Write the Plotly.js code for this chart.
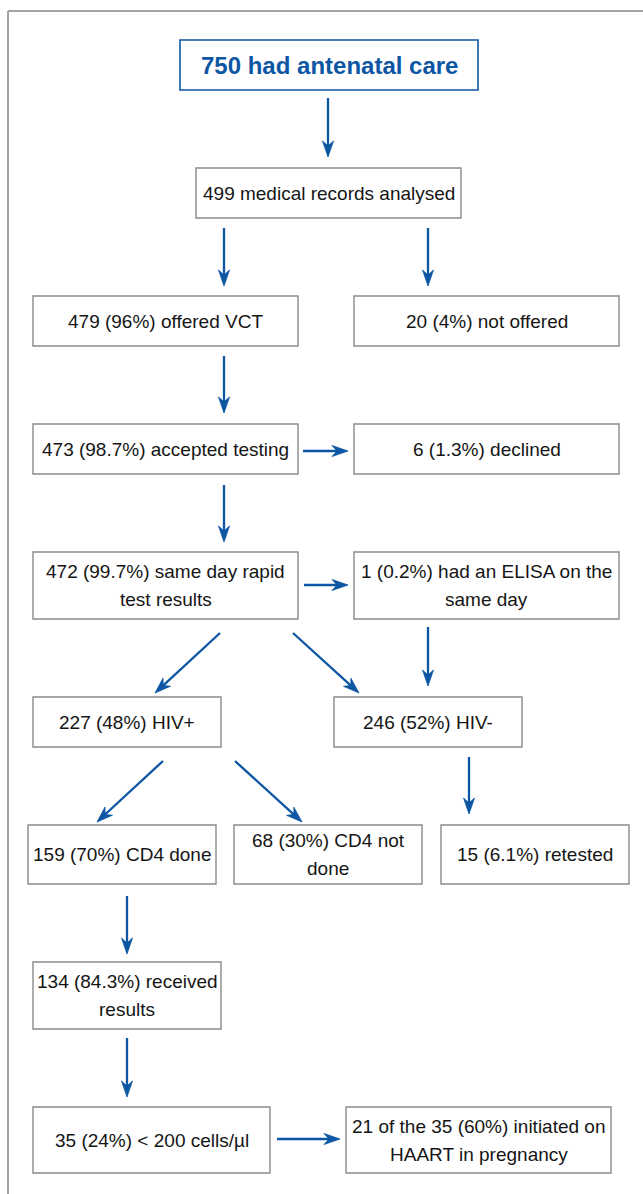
<!DOCTYPE html>
<html><head><meta charset="utf-8">
<script src="https://cdn.plot.ly/plotly-3.0.1.min.js"></script>
<style>html,body{margin:0;padding:0;background:#fff}#chart{width:643px;height:1194px}</style>
</head><body><div id="chart"></div>
<script>
// ---- content (text of each flowchart step) ----
const headLabel = "750 had antenatal care";
const stepLabels = [
  ["499 medical records analysed"],
  ["479 (96%) offered VCT"],
  ["20 (4%) not offered"],
  ["473 (98.7%) accepted testing"],
  ["6 (1.3%) declined"],
  ["472 (99.7%) same day rapid", "test results"],
  ["1 (0.2%) had an ELISA on the", "same day"],
  ["227 (48%) HIV+"],
  ["246 (52%) HIV-"],
  ["159 (70%) CD4 done"],
  ["68 (30%) CD4 not", "done"],
  ["15 (6.1%) retested"],
  ["134 (84.3%) received", "results"],
  ["35 (24%) < 200 cells/µl"],
  ["21 of the 35 (60%) initiated on", "HAART in pregnancy"]
];

// ---- geometry (pixel layout of the diagram) ----
const headBox = [180, 40, 478, 90];
const stepBoxes = [
  [196, 168, 461, 218],
  [33, 296, 298, 346],
  [354, 296, 619, 346],
  [33, 424, 298, 474],
  [354, 424, 619, 474],
  [33, 552, 298, 619],
  [354, 552, 619, 619],
  [33, 697, 221, 747],
  [334, 697, 522, 747],
  [28, 825, 216, 884],
  [234, 825, 422, 884],
  [441, 825, 629, 884],
  [33, 962, 221, 1029],
  [33, 1107, 270, 1173],
  [346, 1107, 611, 1173]
];
const arrows = [
  [328, 98, 328, 157],
  [224, 228, 224, 286],
  [428, 228, 428, 286],
  [224, 356, 224, 413],
  [303, 451, 348, 451],
  [224, 485, 224, 542],
  [304, 585, 348, 585],
  [220, 633, 155, 693],
  [293, 633, 359, 693],
  [428, 627, 428, 686],
  [163, 761, 97, 822],
  [235, 761, 302, 822],
  [469, 757, 469, 814],
  [127, 896, 127, 954],
  [127, 1038, 127, 1097],
  [277, 1139, 340, 1139]
];

const W = 643, H = 1194;
const blue = "#0d56a4";
const boxGrey = "#8a8a8a";
const textCol = "#151515";
const fontFam = "Liberation Sans, Arial, sans-serif";
const lineGap = 28;

const shapes = [];
const annotations = [];

// outer frame (top and left edges visible)
shapes.push({type:"line", xref:"x", yref:"y", x0:8, y0:11, x1:W, y1:11, line:{color:"#a3a3a3", width:2}});
shapes.push({type:"line", xref:"x", yref:"y", x0:8, y0:11, x1:8, y1:H, line:{color:"#a3a3a3", width:2}});

// head box
shapes.push({type:"rect", xref:"x", yref:"y", x0:headBox[0], y0:headBox[1], x1:headBox[2], y1:headBox[3],
  line:{color:blue, width:1.6}, fillcolor:"#fff"});
annotations.push({xref:"x", yref:"y", x:(headBox[0]+headBox[2])/2, y:(headBox[1]+headBox[3])/2,
  text:"<b>"+headLabel+"</b>", showarrow:false, xanchor:"center", yanchor:"middle",
  font:{family:fontFam, size:24, color:blue}});

// step boxes
stepBoxes.forEach((b, i) => {
  shapes.push({type:"rect", xref:"x", yref:"y", x0:b[0], y0:b[1], x1:b[2], y1:b[3],
    line:{color:boxGrey, width:1.4}, fillcolor:"#fff"});
  const lines = stepLabels[i];
  const cx = (b[0]+b[2])/2, cy = (b[1]+b[3])/2;
  lines.forEach((t, k) => {
    const y = cy + (k - (lines.length-1)/2) * lineGap;
    annotations.push({xref:"x", yref:"y", x:cx, y:y, text:t.replace(/</g,"&lt;"), showarrow:false,
      xanchor:"center", yanchor:"middle", font:{family:fontFam, size:19, color:textCol}});
  });
});

// arrows: shaft + notched head
const headLen = 16, headHalf = 5.5, notch = 11;
arrows.forEach(a => {
  const [x0, y0, x1, y1] = a;
  const dx = x1-x0, dy = y1-y0, L = Math.hypot(dx, dy);
  const ux = dx/L, uy = dy/L, nx = -uy, ny = ux;
  const bx = x1 - notch*ux, by = y1 - notch*uy;
  shapes.push({type:"line", xref:"x", yref:"y", x0:x0, y0:y0, x1:bx, y1:by, line:{color:blue, width:2.3}});
  const p1 = [x1 - headLen*ux + headHalf*nx, y1 - headLen*uy + headHalf*ny];
  const p2 = [x1 - headLen*ux - headHalf*nx, y1 - headLen*uy - headHalf*ny];
  const path = `M${x1},${y1} L${p1[0]},${p1[1]} L${bx},${by} L${p2[0]},${p2[1]} Z`;
  shapes.push({type:"path", xref:"x", yref:"y", path:path, fillcolor:blue, line:{color:blue, width:0.8}});
});

const layout = {
  width: W, height: H,
  margin: {l:0, r:0, t:0, b:0},
  paper_bgcolor: "#fff", plot_bgcolor: "#fff",
  showlegend: false,
  xaxis: {range:[0, W], visible:false, fixedrange:true},
  yaxis: {range:[H, 0], visible:false, fixedrange:true},
  shapes: shapes,
  annotations: annotations
};
Plotly.newPlot("chart", [{type:"scatter", x:[], y:[], hoverinfo:"skip"}], layout, {staticPlot:true, displayModeBar:false});
</script>
</body></html>
